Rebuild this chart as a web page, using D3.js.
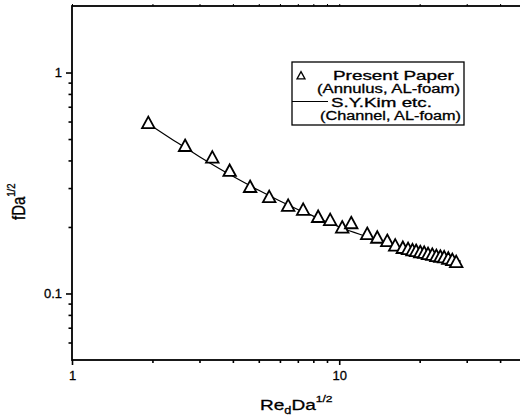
<!DOCTYPE html>
<html>
<head>
<meta charset="utf-8">
<script src="https://cdn.jsdelivr.net/npm/d3@7/dist/d3.min.js"></script>
<style>
  html, body { margin: 0; padding: 0; background: #fff; }
  svg { display: block; font-family: "Liberation Sans", Arial, sans-serif; }
</style>
</head>
<body>
<svg id="chart" width="520" height="416"></svg>
<script>
// Present Paper (Annulus, AL-foam): Re_d·Da^1/2 vs f·Da^1/2
const presentX = [1.93, 2.65, 3.35, 3.89, 4.64, 5.47, 6.44, 7.33, 8.34, 9.25, 10.26, 11.09, 12.73, 13.88, 15.13,
                  16.2, 17.3, 18.1, 18.8, 19.4, 20.1, 20.8, 21.5, 22.3, 23.1, 23.9, 24.7, 25.6, 26.5, 27.4];
const presentY = [0.588, 0.463, 0.410, 0.357, 0.302, 0.272, 0.248, 0.238, 0.221, 0.214, 0.198, 0.207, 0.185, 0.178, 0.172,
                  0.164, 0.160, 0.158, 0.156, 0.155, 0.153, 0.152, 0.150, 0.149, 0.147, 0.146, 0.145, 0.143, 0.141, 0.138];

// S.Y.Kim etc. (Channel, AL-foam) correlation curve
const kimX = [1.93, 2.5, 3, 4, 5, 6, 7, 8, 10, 12, 15, 20, 25, 28.5];
const kimY = [0.587, 0.478, 0.416, 0.339, 0.293, 0.262, 0.240, 0.224, 0.200, 0.185, 0.170, 0.154, 0.145, 0.140];

// Axis ticks
const xMajorTicks = [1, 10];
const xMinorTicks = [2, 3, 4, 5, 6, 7, 8, 9, 20, 30, 40];
const yMajorTicks = [0.1, 1];
const yMinorTicks = [0.06, 0.07, 0.08, 0.09, 0.2, 0.3, 0.4, 0.5, 0.6, 0.7, 0.8, 0.9];
const xTickLabels = ["1", "10"];
const yTickLabels = ["0.1", "1"];

const legendItems = [
  ["Present Paper", "(Annulus, AL-foam)"],
  ["S.Y.Kim etc.", "(Channel, AL-foam)"]
];

const svg = d3.select("#chart");
const plotL = 72, plotR = 526, plotT = 6, plotB = 360;

const x = d3.scaleLog().domain([1, 50]).range([plotL, plotR]);
const y = d3.scaleLog().domain([0.05, 2]).range([plotB, plotT]);

// Frame
svg.append("rect")
  .attr("x", plotL).attr("y", plotT)
  .attr("width", plotR - plotL).attr("height", plotB - plotT)
  .attr("fill", "none").attr("stroke", "#000").attr("stroke-width", 1.8);

// Bottom axis
const xAxis = svg.append("g").attr("transform", `translate(0,${plotB})`);
xAxis.call(d3.axisBottom(x).tickValues(xMajorTicks).tickSize(5).tickPadding(6)
  .tickFormat((d, i) => xTickLabels[i]));
xAxis.append("g").call(d3.axisBottom(x).tickValues(xMinorTicks).tickSize(3).tickFormat(""));
xAxis.selectAll(".domain").remove();
xAxis.selectAll("line").attr("stroke", "#000").attr("stroke-width", 1.6);
xAxis.selectAll("text").attr("font-size", 13).attr("fill", "#000")
  .attr("stroke", "#000").attr("stroke-width", 0.3)
  .attr("font-family", "Liberation Sans, Arial, sans-serif");

// Top axis (small outward ticks)
const xTop = svg.append("g").attr("transform", `translate(0,${plotT})`);
xTop.call(d3.axisTop(x).tickValues(xMajorTicks.concat(xMinorTicks)).tickSize(2).tickFormat(""));
xTop.selectAll(".domain").remove();
xTop.selectAll("line").attr("stroke", "#000").attr("stroke-width", 1);

// Left axis
const yAxis = svg.append("g").attr("transform", `translate(${plotL},0)`);
yAxis.call(d3.axisLeft(y).tickValues(yMajorTicks).tickSize(6).tickPadding(4)
  .tickFormat((d, i) => yTickLabels[i]));
yAxis.append("g").call(d3.axisLeft(y).tickValues(yMinorTicks).tickSize(3.5).tickFormat(""));
yAxis.selectAll(".domain").remove();
yAxis.selectAll("line").attr("stroke", "#000").attr("stroke-width", 1.6);
yAxis.selectAll("text").attr("font-size", 13).attr("fill", "#000")
  .attr("stroke", "#000").attr("stroke-width", 0.3)
  .attr("font-family", "Liberation Sans, Arial, sans-serif");

// Axis titles
const xt = svg.append("text").attr("transform", "translate(260,410) scale(1.27,1)")
  .attr("font-size", 15).attr("fill", "#000").attr("stroke", "#000").attr("stroke-width", 0.3);
xt.append("tspan").text("Re");
xt.append("tspan").attr("font-size", 10).attr("dy", 4).text("d");
xt.append("tspan").attr("dy", -4).text("Da");
xt.append("tspan").attr("font-size", 9.5).attr("dy", -8).text("1/2");

const yt = svg.append("text")
  .attr("transform", "translate(25,220) rotate(-90) scale(1,1.2)")
  .attr("font-size", 15).attr("fill", "#000").attr("stroke", "#000").attr("stroke-width", 0.3);
yt.append("tspan").text("fDa");
yt.append("tspan").attr("font-size", 9.5).attr("dy", -8).text("1/2");

// Correlation line
const kimData = kimX.map((v, i) => [v, kimY[i]]);
svg.append("path")
  .datum(kimData)
  .attr("fill", "none").attr("stroke", "#000").attr("stroke-width", 1.2)
  .attr("d", d3.line().x(d => x(d[0])).y(d => y(d[1])).curve(d3.curveCatmullRom));

// Triangle markers
const tri = (cx, cy, s) => {
  const h = s * 0.92;
  return `M${cx},${cy - h * 0.6}L${cx + s / 2},${cy + h * 0.4}L${cx - s / 2},${cy + h * 0.4}Z`;
};
const presentData = presentX.map((v, i) => [v, presentY[i]]);
svg.append("g").selectAll("path")
  .data(presentData).join("path")
  .attr("d", d => tri(x(d[0]), y(d[1]), 12.5))
  .attr("fill", "#fff").attr("stroke", "#000").attr("stroke-width", 1.8)
  .attr("stroke-linejoin", "miter");

// Legend
const lg = svg.append("g");
lg.append("rect").attr("x", 292).attr("y", 62).attr("width", 172).attr("height", 63)
  .attr("fill", "#fff").attr("stroke", "#000").attr("stroke-width", 1.3);
lg.append("path").attr("d", tri(301, 76, 8))
  .attr("fill", "#fff").attr("stroke", "#000").attr("stroke-width", 1.3);
lg.append("line").attr("x1", 292).attr("x2", 328).attr("y1", 101.5).attr("y2", 101.5)
  .attr("stroke", "#000").attr("stroke-width", 1.2);
// [left, baseline, rendered width] for each legend line; glyphs are widened to fit
const legendPos = [[333, 79.5, 121], [317, 93, 143], [331, 106.5, 101], [320, 120, 141]];
legendItems.flat().forEach((t, i) => {
  const [lx, ly, w] = legendPos[i];
  const txt = lg.append("text").attr("x", 0).attr("y", 0)
    .attr("font-size", 12.5).attr("fill", "#000")
    .attr("stroke", "#000").attr("stroke-width", 0.3).text(t);
  const natural = txt.node().getComputedTextLength();
  txt.attr("transform", `translate(${lx},${ly}) scale(${w / natural},1)`);
});
</script>
</body>
</html>
